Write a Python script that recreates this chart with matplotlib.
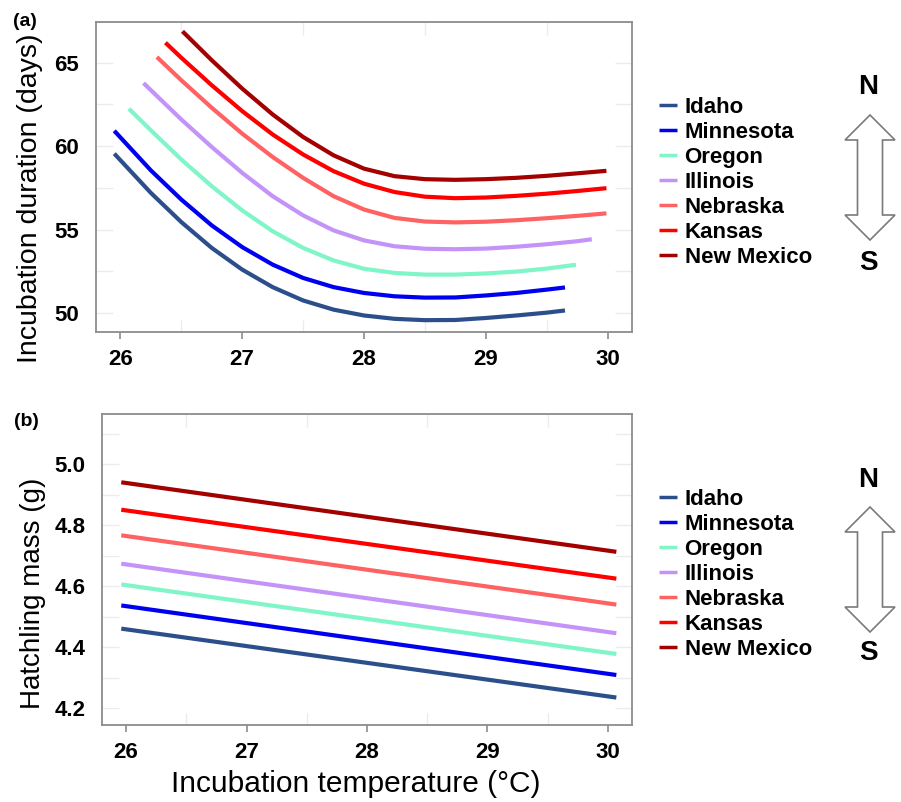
import numpy as np
import matplotlib
matplotlib.use('Agg')
import matplotlib.pyplot as plt
from matplotlib.ticker import MultipleLocator, FormatStrFormatter
from matplotlib.patches import Polygon

plt.rcParams['font.family'] = ['Liberation Sans', 'DejaVu Sans']

W, H = 901, 802

states = ['Idaho', 'Minnesota', 'Oregon', 'Illinois', 'Nebraska', 'Kansas', 'New Mexico']
colors = ['#2c4f8c', '#0000f0', '#80f5c8', '#c493f7', '#ff6262', '#ff0000', '#a30000']

# (a) incubation duration curves
idaho_t = [25.95, 26.25, 26.5, 26.75, 27.0, 27.25, 27.5, 27.75, 28.0, 28.25, 28.5, 28.75, 29.0, 29.25, 29.5, 29.65]
idaho_d = [59.55, 57.2, 55.45, 53.9, 52.6, 51.55, 50.75, 50.2, 49.85, 49.65, 49.57, 49.58, 49.7, 49.85, 50.02, 50.15]
minnesota_t = [25.95, 26.25, 26.5, 26.75, 27.0, 27.25, 27.5, 27.75, 28.0, 28.25, 28.5, 28.75, 29.0, 29.25, 29.5, 29.65]
minnesota_d = [60.92, 58.55, 56.8, 55.25, 53.95, 52.9, 52.1, 51.55, 51.2, 51.0, 50.92, 50.93, 51.05, 51.2, 51.4, 51.53]
oregon_t = [26.07, 26.25, 26.5, 26.75, 27.0, 27.25, 27.5, 27.75, 28.0, 28.25, 28.5, 28.75, 29.0, 29.25, 29.5, 29.74]
oregon_d = [62.24, 60.95, 59.2, 57.6, 56.15, 54.9, 53.9, 53.15, 52.65, 52.4, 52.3, 52.3, 52.37, 52.48, 52.66, 52.89]
illinois_t = [26.19, 26.5, 26.75, 27.0, 27.25, 27.5, 27.75, 28.0, 28.25, 28.5, 28.75, 29.0, 29.25, 29.5, 29.75, 29.87]
illinois_d = [63.78, 61.6, 59.95, 58.4, 57.0, 55.85, 54.95, 54.35, 54.0, 53.85, 53.82, 53.86, 53.97, 54.12, 54.3, 54.42]
nebraska_t = [26.3, 26.5, 26.75, 27.0, 27.25, 27.5, 27.75, 28.0, 28.25, 28.5, 28.75, 29.0, 29.25, 29.5, 29.75, 29.99]
nebraska_d = [65.34, 63.95, 62.3, 60.75, 59.35, 58.1, 57.0, 56.2, 55.7, 55.48, 55.43, 55.47, 55.56, 55.68, 55.82, 55.97]
kansas_t = [26.37, 26.5, 26.75, 27.0, 27.25, 27.5, 27.75, 28.0, 28.25, 28.5, 28.75, 29.0, 29.25, 29.5, 29.75, 29.99]
kansas_d = [66.2, 65.3, 63.65, 62.1, 60.7, 59.5, 58.5, 57.75, 57.25, 56.97, 56.88, 56.92, 57.02, 57.15, 57.31, 57.48]
newmexico_t = [26.51, 26.75, 27.0, 27.25, 27.5, 27.75, 28.0, 28.25, 28.5, 28.75, 29.0, 29.25, 29.5, 29.75, 29.99]
newmexico_d = [66.88, 65.15, 63.45, 61.9, 60.55, 59.45, 58.65, 58.2, 58.02, 57.98, 58.02, 58.1, 58.22, 58.37, 58.52]

dur_t = [idaho_t, minnesota_t, oregon_t, illinois_t, nebraska_t, kansas_t, newmexico_t]
dur_d = [idaho_d, minnesota_d, oregon_d, illinois_d, nebraska_d, kansas_d, newmexico_d]

# (b) hatchling mass, straight lines (start, end)
mass_t = [25.96, 30.07]
mass_start = [4.461, 4.537, 4.606, 4.674, 4.767, 4.851, 4.941]
mass_end = [4.235, 4.309, 4.378, 4.446, 4.540, 4.625, 4.713]


def px_box(left, top, right, bottom):
    return [left / W, 1 - bottom / H, (right - left) / W, (bottom - top) / H]


def style_axes(ax):
    for s in ax.spines.values():
        s.set_color('#8c8c8c')
        s.set_linewidth(1.3)
    ax.tick_params(axis='x', which='major', direction='out', length=5, width=1.2,
                   color='#8c8c8c', pad=7, labelsize=16)
    ax.tick_params(axis='x', which='minor', direction='in', length=9, width=1,
                   color='#ececec', top=True, bottom=True)
    ax.tick_params(axis='y', which='both', direction='in', length=12, width=1,
                   color='#ececec', right=True, pad=12, labelsize=16)
    for lab in ax.get_xticklabels() + ax.get_yticklabels():
        lab.set_fontweight('bold')


def side_key(ax, leg_y, n_y, s_y, top, bot):
    leg = ax.legend(loc='center left', bbox_to_anchor=(639 / W, 1 - leg_y / H),
                    bbox_transform=fig.transFigure, frameon=False,
                    prop={'size': 16, 'weight': 'bold'}, handlelength=0.8,
                    handletextpad=0.35, labelspacing=0.18, borderpad=0.4)
    for h in leg.get_lines():
        h.set_linewidth(2.5)
    cx, hw, sw, hl = 870, 25, 12.5, 25
    pts = [(cx, top), (cx + hw, top + hl), (cx + sw, top + hl), (cx + sw, bot - hl),
           (cx + hw, bot - hl), (cx, bot), (cx - hw, bot - hl), (cx - sw, bot - hl),
           (cx - sw, top + hl), (cx - hw, top + hl)]
    pts = [(x / W, 1 - y / H) for x, y in pts]
    fig.patches.append(Polygon(pts, closed=True, facecolor='white', edgecolor='#7a7a7a',
                               linewidth=1.2, transform=fig.transFigure))
    fig.text(868 / W, 1 - n_y / H, 'N', fontsize=20, fontweight='bold', ha='center', va='center')
    fig.text(868 / W, 1 - s_y / H, 'S', fontsize=20, fontweight='bold', ha='center', va='center')


fig = plt.figure(figsize=(W / 100, H / 100), dpi=100)

############ (a) ############
ax1 = fig.add_axes(px_box(96, 22, 632, 332))
for i in range(len(states)):
    ax1.plot(dur_t[i], dur_d[i], color=colors[i], lw=3, label=states[i],
             solid_capstyle='butt', solid_joinstyle='round')
ax1.set_xlim(25.8, 30.2)
ax1.set_ylim(48.86, 67.44)
ax1.xaxis.set_major_locator(MultipleLocator(1))
ax1.xaxis.set_minor_locator(MultipleLocator(0.5))
ax1.yaxis.set_major_locator(MultipleLocator(5))
ax1.yaxis.set_minor_locator(MultipleLocator(2.5))
style_axes(ax1)
ax1.set_ylabel('Incubation duration (days)', fontsize=20.5)
ax1.yaxis.set_label_coords(-0.098, 0.432)
side_key(ax1, 182.5, 87, 263, 115, 240)
fig.text(13 / W, 1 - 21 / H, '(a)', fontsize=14, fontweight='bold', va='center')

############ (b) ############
ax2 = fig.add_axes(px_box(102, 414, 632, 725))
for i in range(len(states)):
    ax2.plot(mass_t, [mass_start[i], mass_end[i]], color=colors[i], lw=3, label=states[i],
             solid_capstyle='butt')
ax2.set_xlim(25.8, 30.2)
ax2.set_ylim(4.145, 5.165)
ax2.xaxis.set_major_locator(MultipleLocator(1))
ax2.xaxis.set_minor_locator(MultipleLocator(0.5))
ax2.yaxis.set_major_locator(MultipleLocator(0.2))
ax2.yaxis.set_minor_locator(MultipleLocator(0.1))
ax2.yaxis.set_major_formatter(FormatStrFormatter('%.1f'))
style_axes(ax2)
ax2.set_ylabel('Hatchling mass (g)', fontsize=20)
ax2.yaxis.set_label_coords(-0.105, 0.424)
ax2.set_xlabel('Incubation temperature (\u00b0C)', fontsize=21.5)
ax2.xaxis.set_label_coords(0.479, -0.145)
side_key(ax2, 574.5, 480, 653, 507, 632)
fig.text(14 / W, 1 - 421 / H, '(b)', fontsize=14, fontweight='bold', va='center')

fig.savefig('out.png', dpi=100)
